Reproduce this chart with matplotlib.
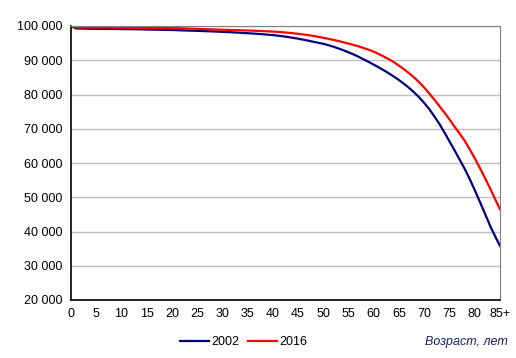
import matplotlib.pyplot as plt
from matplotlib.ticker import FuncFormatter

plt.rcParams['font.family'] = ['Liberation Sans', 'DejaVu Sans']

# ages 0..85+, survivors out of 100 000
ages = list(range(86))
tick_labels = [str(a) for a in range(0, 85, 5)] + ['85+']

survivors_2002 = [
    100000, 99300, 99250, 99220, 99200, 99180, 99160, 99150, 99140, 99120,
    99100, 99080, 99060, 99040, 99010, 98980, 98950, 98920, 98890, 98860,
    98830, 98780, 98730, 98680, 98630, 98580, 98530, 98480, 98420, 98360,
    98300, 98230, 98150, 98070, 97980, 97890, 97800, 97700, 97590, 97470,
    97350, 97180, 96990, 96780, 96550, 96300, 96020, 95720, 95400, 95100,
    94800, 94400, 93950, 93450, 92900, 92300, 91700, 91000, 90250, 89500,
    88700, 87900, 87050, 86150, 85200, 84200, 83100, 81900, 80600, 79150,
    77500, 75700, 73600, 71400, 68900, 66300, 63700, 61000, 58300, 55300,
    52100, 48700, 45300, 41800, 38700, 35800,
]

survivors_2016 = [
    100000, 99600, 99570, 99550, 99540, 99530, 99520, 99510, 99500, 99490,
    99480, 99470, 99460, 99450, 99440, 99430, 99420, 99410, 99400, 99390,
    99380, 99350, 99310, 99260, 99210, 99160, 99110, 99060, 99010, 98960,
    98900, 98860, 98820, 98780, 98730, 98680, 98630, 98570, 98510, 98440,
    98370, 98280, 98170, 98040, 97890, 97720, 97530, 97320, 97100, 96850,
    96550, 96250, 95950, 95600, 95250, 94850, 94450, 94050, 93550, 93050,
    92500, 91800, 91050, 90300, 89400, 88400, 87350, 86200, 84950, 83550,
    82000, 80300, 78500, 76600, 74700, 72700, 70600, 68600, 66500, 64000,
    61400, 58600, 55700, 52700, 49600, 46500,
]

fig = plt.figure(figsize=(5.16, 3.58), dpi=100)
ax = fig.add_axes([71 / 516, 1 - 300 / 358, 429 / 516, 274 / 358])

ax.plot(ages, survivors_2002, color='#000080', lw=1.6, label='2002')
ax.plot(ages, survivors_2016, color='#FF0000', lw=1.6, label='2016')

ax.set_xlim(0, 85)
ax.set_ylim(20000, 100000)
ax.set_yticks(range(20000, 100001, 10000))
ax.yaxis.set_major_formatter(FuncFormatter(lambda v, p: f'{int(v):,}'.replace(',', ' ')))
ax.set_xticks(range(0, 86, 5))
ax.set_xticklabels(tick_labels)

ax.grid(axis='y', color='#C0C0C0', lw=1)
ax.set_axisbelow(True)
ax.tick_params(length=0, labelsize=9, colors='black', pad=6)

for s in ['top', 'right']:
    ax.spines[s].set_color('#808080')
for s in ['left', 'bottom']:
    ax.spines[s].set_color('black')
    ax.spines[s].set_linewidth(1.2)

fig.legend(loc='center', bbox_to_anchor=(0.472, 1 - 342 / 358), ncol=2,
           frameon=False, fontsize=9, handlelength=2.3, handletextpad=0.2,
           columnspacing=0.7)
fig.text(508 / 516, 1 - 342 / 358, 'Возраст, лет', ha='right', va='center',
         fontsize=9, style='italic', color='#1F1F5F')

fig.savefig('out.png', dpi=100)
